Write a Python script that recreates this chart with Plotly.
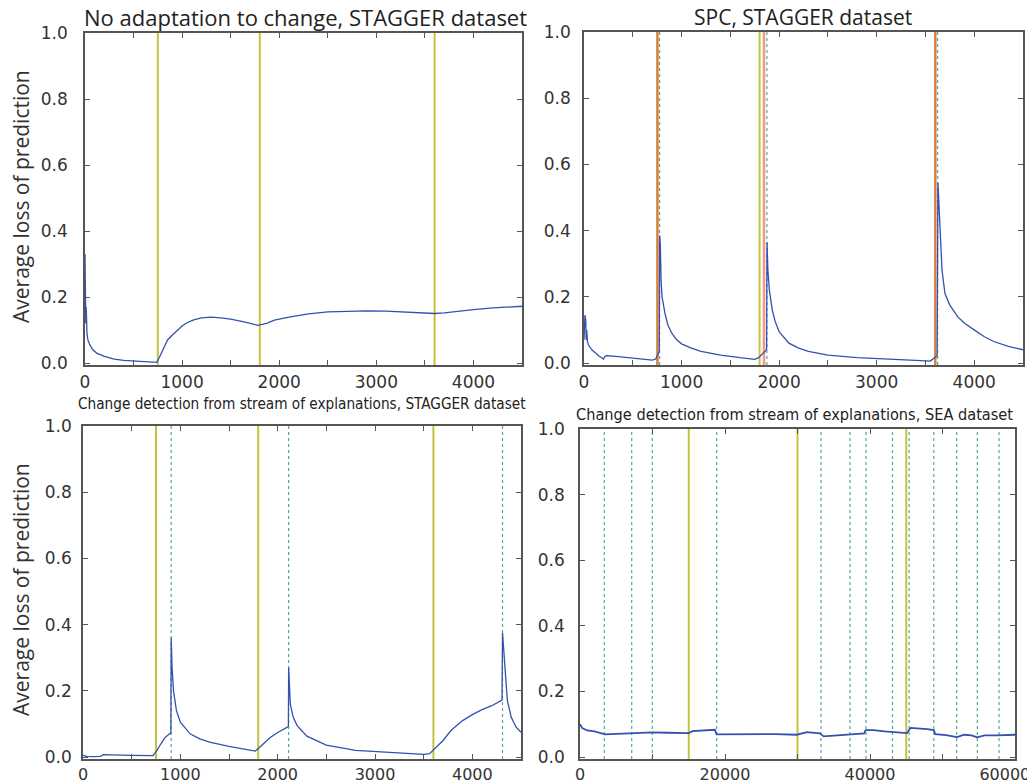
import plotly.graph_objects as go

# ---------------- data ----------------
# Top-left: No adaptation to change, STAGGER
tl_x = [0, 3, 8, 12, 16, 20, 30, 50, 80, 120, 200, 300, 400, 550, 700, 740, 770, 800, 850, 900, 950,
        1000, 1050, 1120, 1200, 1300, 1400, 1500, 1650, 1780, 1870, 1950, 2100, 2300, 2500, 2700, 2900,
        3100, 3300, 3500, 3600, 3700, 3800, 4000, 4200, 4500]
tl_y = [0.33, 0.25, 0.12, 0.17, 0.14, 0.09, 0.07, 0.055, 0.04, 0.03, 0.02, 0.012, 0.008, 0.005, 0.003,
        0.002, 0.02, 0.04, 0.07, 0.085, 0.1, 0.112, 0.122, 0.131, 0.137, 0.139, 0.137, 0.133, 0.124,
        0.114, 0.12, 0.13, 0.139, 0.149, 0.155, 0.157, 0.158, 0.157, 0.155, 0.151, 0.15, 0.152, 0.156,
        0.162, 0.167, 0.172]

# Top-right: SPC, STAGGER
tr_x = [0, 5, 10, 18, 22, 28, 35, 45, 80, 150, 200, 215, 230, 300, 400, 550, 700, 735, 760, 772, 775,
        782, 790, 800, 830, 860, 900, 950, 1000, 1100, 1200, 1400, 1600, 1750, 1790, 1840, 1872, 1876,
        1885, 1900, 1930, 1960, 2000, 2100, 2200, 2300, 2500, 2800, 3100, 3400, 3550, 3590, 3620, 3628,
        3640, 3650, 3670, 3700, 3750, 3830, 3900, 4000, 4100, 4200, 4350, 4500]
tr_y = [0.07, 0.14, 0.145, 0.13, 0.07, 0.1, 0.065, 0.055, 0.04, 0.022, 0.012, 0.02, 0.022, 0.021, 0.018,
        0.013, 0.009, 0.012, 0.025, 0.035, 0.385, 0.36, 0.25, 0.2, 0.15, 0.115, 0.09, 0.07, 0.058, 0.045,
        0.035, 0.024, 0.016, 0.011, 0.016, 0.03, 0.04, 0.365, 0.28, 0.22, 0.16, 0.125, 0.095, 0.06, 0.045,
        0.035, 0.024, 0.016, 0.011, 0.008, 0.006, 0.015, 0.022, 0.545, 0.47, 0.38, 0.28, 0.21, 0.175,
        0.14, 0.12, 0.1, 0.08, 0.065, 0.05, 0.04]

# Bottom-left: explanations, STAGGER
bl_x = [0, 40, 100, 180, 210, 300, 500, 720, 760, 800, 840, 880, 903, 906, 915, 930, 960, 1000, 1100,
        1200, 1300, 1500, 1700, 1770, 1810, 1860, 1920, 2000, 2060, 2110, 2113, 2130, 2160, 2200, 2300,
        2500, 2800, 3200, 3500, 3560, 3610, 3700, 3780, 3900, 4000, 4100, 4200, 4305, 4310, 4330, 4360,
        4400, 4450, 4500]
bl_y = [0.005, 0.002, 0.001, 0.002, 0.007, 0.006, 0.005, 0.004, 0.02, 0.04, 0.058, 0.068, 0.072, 0.36,
        0.27, 0.2, 0.14, 0.105, 0.07, 0.055, 0.045, 0.032, 0.022, 0.018, 0.028, 0.042, 0.058, 0.074,
        0.085, 0.092, 0.27, 0.16, 0.12, 0.095, 0.063, 0.036, 0.02, 0.012, 0.008, 0.01, 0.025, 0.05, 0.08,
        0.11, 0.128, 0.143, 0.155, 0.172, 0.375, 0.28, 0.17, 0.12, 0.09, 0.075]

# Bottom-right: explanations, SEA
br_x = [0, 300, 1000, 2000, 3450, 5000, 7100, 8500, 10000, 12000, 15000, 15500, 17000, 18600, 18850,
        21000, 24800, 27000, 29900, 31300, 33100, 33600, 35500, 37300, 39200, 39400, 40500, 42000, 43300,
        45100, 45600, 47000, 47900, 48800, 49000, 50500, 52000, 53000, 54000, 54800, 55800, 57500, 60000]
br_y = [0.10, 0.088, 0.081, 0.078, 0.069, 0.07, 0.071, 0.074, 0.075, 0.074, 0.073, 0.079, 0.08, 0.083,
        0.069, 0.069, 0.071, 0.07, 0.068, 0.076, 0.072, 0.063, 0.066, 0.069, 0.072, 0.082, 0.082, 0.078,
        0.076, 0.073, 0.089, 0.087, 0.085, 0.082, 0.07, 0.067, 0.061, 0.068, 0.066, 0.06, 0.066, 0.066,
        0.068]

true_changes_stagger = [750, 1800, 3600]
spc_detections = [755, 1845, 3602]
spc_dotted = [775, 1875, 3625]
expl_detections_stagger = [906, 2113, 4310]
true_changes_sea = [15000, 30000, 45000]
expl_detections_sea = [3350, 7130, 9970, 18860, 33240, 37240, 39450, 43100, 45400, 48800, 51960, 54800, 57800]

titles = ["No adaptation to change, STAGGER dataset", "SPC, STAGGER dataset",
          "Change detection from stream of explanations, STAGGER dataset",
          "Change detection from stream of explanations, SEA dataset"]
y_label = "Average loss of prediction"
y_tickvals = [0.0, 0.2, 0.4, 0.6, 0.8, 1.0]
y_ticktext = ["0.0", "0.2", "0.4", "0.6", "0.8", "1.0"]
x_ticks_stagger = [0, 1000, 2000, 3000, 4000]
x_text_stagger = ["0", "1000", "2000", "3000", "4000"]
x_ticks_sea = [0, 20000, 40000, 60000]
x_text_sea = ["0", "20000", "40000", "60000\u00a0\u00a0\u00a0\u00a0"]

# ---------------- layout helpers ----------------
W, H = 1035, 784
OFF = 8  # page body margin compensation
BLUE = "#3450b0"
YELLOW = "#c4c43c"
TEAL = "#55a898"
RED = "rgba(235,70,50,0.55)"
AX = "#555555"
TICKFONT = dict(family="DejaVu Sans", size=17, color="#333333")
TICKFONT_BOTTOM = dict(family="DejaVu Sans", size=16, color="#333333")


def px_x(p):
    return (p - OFF) / W


def px_y(p):
    return 1 - (p - OFF) / H


def dx(a, b):
    return [px_x(a), px_x(b)]


def dy(top, bottom):
    return [px_y(bottom), px_y(top)]


panels = [
    # (xpx, ypx, xrange, xticks, xtext, minor dtick, ylabel standoff, xlabel standoff, xfont)
    ((85, 522), (33, 365), [0, 4500], x_ticks_stagger, x_text_stagger, 500, 12, 1, TICKFONT),
    ((584, 1023), (32, 365), [0, 4500], x_ticks_stagger, x_text_stagger, 500, 8, 1, TICKFONT),
    ((83, 521), (426, 759), [0, 4500], x_ticks_stagger, x_text_stagger, 500, 6, 0, TICKFONT_BOTTOM),
    ((580, 1015), (429, 759), [0, 60000], x_ticks_sea, x_text_sea, 10000, 10, 0, TICKFONT_BOTTOM),
]

fig = go.Figure()
series = [(tl_x, tl_y), (tr_x, tr_y), (bl_x, bl_y), (br_x, br_y)]
layout = {}
for i, ((xa, xb), (ya, yb), xr, xt, xtt, mdt, stand, xstand, xfont) in enumerate(panels):
    n = "" if i == 0 else str(i + 1)
    xs, ys = series[i]
    fig.add_trace(go.Scatter(x=xs, y=ys, mode="lines", xaxis="x" + n, yaxis="y" + n,
                             line=dict(color=BLUE, width=1.8 if i == 3 else 1.3),
                             showlegend=False, hoverinfo="skip"))
    layout["xaxis" + n] = dict(domain=dx(xa, xb), range=xr, anchor="y" + n, showgrid=False,
                               zeroline=False, showline=True, linecolor=AX, linewidth=1.5,
                               mirror="ticks", ticks="inside", ticklen=5, tickcolor=AX, tickwidth=1.2,
                               tickvals=xt, ticktext=xtt, tickfont=xfont,
                               ticklabelstandoff=xstand, automargin=False, ticklabeloverflow="allow",
                               minor=dict(dtick=mdt, ticks="inside", ticklen=5, tickcolor=AX,
                                          tickwidth=1.2, showgrid=False))
    layout["yaxis" + n] = dict(domain=dy(ya, yb), range=[-0.006, 1.0], anchor="x" + n, showgrid=False,
                               zeroline=False, showline=True, linecolor=AX, linewidth=1.5,
                               mirror="ticks", ticks="inside", ticklen=5, tickcolor=AX, tickwidth=1.2,
                               tickvals=y_tickvals, ticktext=y_ticktext, tickfont=TICKFONT,
                               ticklabelstandoff=stand, automargin=False)

shapes = []


def vlines(xref, yref, xs, color, width, dash="solid"):
    for v in xs:
        shapes.append(dict(type="line", xref=xref, yref=yref + " domain", x0=v, x1=v, y0=0, y1=1,
                           line=dict(color=color, width=width, dash=dash), layer="below"))


vlines("x", "y", true_changes_stagger, YELLOW, 2)
vlines("x2", "y2", true_changes_stagger, YELLOW, 2)
vlines("x2", "y2", spc_detections, RED, 2.6)
vlines("x2", "y2", spc_dotted, TEAL, 1.2, "dot")
vlines("x3", "y3", true_changes_stagger, YELLOW, 2)
vlines("x3", "y3", expl_detections_stagger, TEAL, 1.2, "dot")
vlines("x4", "y4", true_changes_sea, YELLOW, 2)
vlines("x4", "y4", expl_detections_sea, TEAL, 1.2, "dot")

annotations = []
COND = "DejaVu Sans Condensed, Liberation Sans Narrow, Roboto"
title_specs = [
    (titles[0], 305, 17, "Open Sans", 22),
    (titles[1], 803, 17, "Open Sans", 21),
    (titles[2], 302, 404, COND, 15.2),
    (titles[3], 794, 414, COND, 16.2),
]
for text, cx, cy, fam, sz in title_specs:
    annotations.append(dict(text=text, x=px_x(cx), y=px_y(cy), xref="paper", yref="paper",
                            xanchor="center", yanchor="middle", showarrow=False,
                            font=dict(family=fam, size=sz, color="#222222")))
for cy in (197, 590):
    annotations.append(dict(text=y_label, x=px_x(21), y=px_y(cy), xref="paper", yref="paper",
                            xanchor="center", yanchor="middle", showarrow=False, textangle=-90,
                            font=dict(family="Open Sans", size=21, color="#333333")))

fig.update_layout(template="none", width=W, height=H, margin=dict(l=0, r=0, t=0, b=0, pad=0),
                  paper_bgcolor="white", plot_bgcolor="white", shapes=shapes,
                  annotations=annotations, showlegend=False, **layout)

fig.write_html("out.html")
